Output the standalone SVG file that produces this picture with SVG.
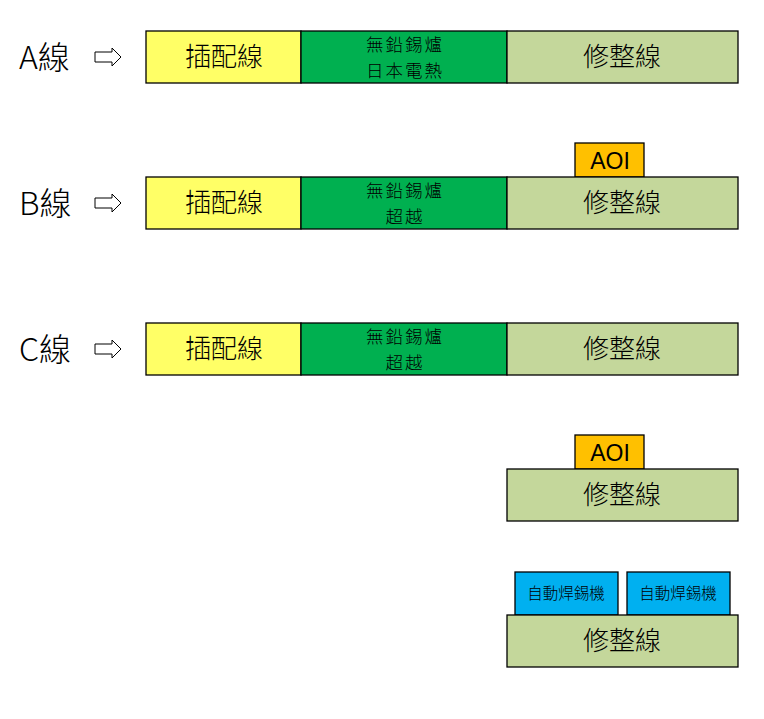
<svg xmlns="http://www.w3.org/2000/svg" width="764" height="719" viewBox="0 0 764 719">
<defs>
<style>
.b{stroke:#000;stroke-width:1.3}
.y{fill:#FFFF66}
.g{fill:#00B050}
.o{fill:#C4D79B}
.a{fill:#FFC000}
.c{fill:#00B0F0}
text{font-family:"Noto Sans CJK TC","Noto Sans CJK SC",sans-serif;fill:#000;text-anchor:middle}
.lab{font-size:32px;text-anchor:start;font-weight:300}
.big{font-size:26px;font-weight:300}
.mid{font-size:17.5px;font-weight:300;letter-spacing:2px}
.sm{font-size:15.5px;font-weight:300}
.aoi{font-family:"Liberation Sans",Arial,sans-serif;font-size:23px}
.arr{fill:#fff;stroke:#000;stroke-width:1}
</style>
</defs>
<g id="rowA">
<text class="lab" x="19" y="69">A線</text>
<path class="arr" d="M95,52 H112 V48 L121,57 L112,66 V62 H95 Z"/>
<rect class="b y" x="146" y="31" width="155" height="52"/>
<rect class="b g" x="301" y="31" width="206" height="52"/>
<rect class="b o" x="507" y="31" width="231" height="52"/>
<text class="big" x="224" y="66">插配線</text>
<text class="mid" x="405" y="51">無鉛錫爐</text>
<text class="mid" x="405" y="76.5">日本電熱</text>
<text class="big" x="622" y="66">修整線</text>
</g>
<g id="rowB">
<text class="lab" x="19" y="215">B線</text>
<path class="arr" d="M95,198 H112 V194 L121,203 L112,212 V208 H95 Z"/>
<rect class="b a" x="575" y="143" width="69" height="34"/>
<text class="aoi" x="610" y="169">AOI</text>
<rect class="b y" x="146" y="177" width="155" height="52"/>
<rect class="b g" x="301" y="177" width="206" height="52"/>
<rect class="b o" x="507" y="177" width="231" height="52"/>
<text class="big" x="224" y="212">插配線</text>
<text class="mid" x="405" y="197">無鉛錫爐</text>
<text class="mid" x="405" y="222.5">超越</text>
<text class="big" x="622" y="212">修整線</text>
</g>
<g id="rowC">
<text class="lab" x="19" y="361">C線</text>
<path class="arr" d="M95,344 H112 V340 L121,349 L112,358 V354 H95 Z"/>
<rect class="b y" x="146" y="323" width="155" height="52"/>
<rect class="b g" x="301" y="323" width="206" height="52"/>
<rect class="b o" x="507" y="323" width="231" height="52"/>
<text class="big" x="224" y="358">插配線</text>
<text class="mid" x="405" y="343">無鉛錫爐</text>
<text class="mid" x="405" y="368.5">超越</text>
<text class="big" x="622" y="358">修整線</text>
</g>
<g id="rowD">
<rect class="b a" x="575" y="435" width="69" height="34"/>
<text class="aoi" x="610" y="461">AOI</text>
<rect class="b o" x="507" y="469" width="231" height="52"/>
<text class="big" x="622" y="504">修整線</text>
</g>
<g id="rowE">
<rect class="b c" x="515" y="572" width="103" height="43"/>
<text class="sm" x="566" y="599">自動焊錫機</text>
<rect class="b c" x="627" y="572" width="103" height="43"/>
<text class="sm" x="678" y="599">自動焊錫機</text>
<rect class="b o" x="507" y="615" width="231" height="52"/>
<text class="big" x="622" y="650">修整線</text>
</g>
<g id="connectors"></g>
</svg>
